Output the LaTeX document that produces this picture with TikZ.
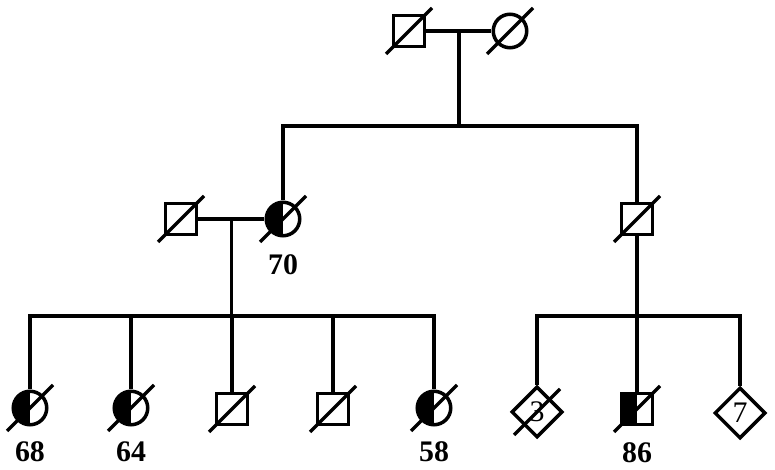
\documentclass[tikz,border=0pt]{standalone}
\usepackage{fontspec}
\setmainfont{Liberation Serif}
\usetikzlibrary{shapes.geometric, positioning, calc}

\begin{document}
\begin{tikzpicture}[x=0.02cm, y=0.02cm, line width=2pt]
        \tikzstyle{male} = [rectangle, draw=black, minimum size=0.62cm, inner sep=0pt]
        \tikzstyle{female} = [circle, draw=black, minimum size=0.67cm, inner sep=0pt]
        \tikzstyle{unknown} = [diamond, draw=black, minimum size=1.02cm, inner sep=0pt, font=\fontsize{17}{17}\selectfont]
        \tikzstyle{affected} = [path picture={\fill[black] (path picture bounding box.south west) rectangle (path picture bounding box.north);}]
        \tikzstyle{age} = [inner sep=0pt, font=\bfseries\fontsize{17}{17}\selectfont]

        \useasboundingbox (0,0) rectangle (775,470);

        % generation I
        \node (gpa) [male] at (409,439) {};
        \node (gma) [female] at (510,439) {};

        % generation II
        \node (dad) [male] at (181,251) {};
        \node (mom) [female, affected] at (283,251) {};
        \node (uncle) [male] at (637,251) {};
        \node (age70) [age, below=0.3cm of mom] {70};

        % generation III
        \node (d68) [female, affected] at (30,62) {};
        \node (d64) [female, affected] at (131,62) {};
        \node (son1) [male] at (232,61) {};
        \node (son2) [male] at (333,61) {};
        \node (d58) [female, affected] at (434,62) {};
        \node (sib3) [unknown] at (537,58) {3};
        \node (son86) [male, affected] at (637,61) {};
        \node (sib7) [unknown] at (740,57) {7};
        \node (age68) [age, below=0.26cm of d68] {68};
        \node (age64) [age, below=0.26cm of d64] {64};
        \node (age58) [age, below=0.26cm of d58] {58};
        \node (age86) [age, below=0.29cm of son86] {86};

        \coordinate (mate1) at ($(gpa.east)!0.5!(gma.west)$);
        \coordinate (mate2) at ($(dad.east)!0.5!(mom.west)$);
        \coordinate (bar1) at (mate1 |- 0,344);
        \coordinate (bar2) at (mate2 |- 0,154);
        \coordinate (bar3) at (uncle |- 0,154);

        \draw (gpa.east) -- (gma.west);
        \draw (mate1) -- (bar1);
        \draw (mom.north) |- (bar1) -| (uncle.north);

        \draw (dad.east) -- (mom.west);
        \draw (mate2) -- (bar2);
        \draw (d68.north) |- (bar2) -| (d58.north);
        \draw (d64.north) -- (d64.north |- bar2);
        \draw (son1.north) -- (son1.north |- bar2);
        \draw (son2.north) -- (son2.north |- bar2);

        \draw (uncle.south) -- (bar3);
        \draw (sib3.north) |- (bar3) -| (sib7.north);
        \draw (son86.north) -- (bar3);

        % deceased
        \foreach \n in {gpa, gma, dad, mom, uncle, d68, d64, son1, son2, d58, sib3, son86}
            \draw ($(\n)+(-23,-23)$) -- ($(\n)+(23,23)$);
    \end{tikzpicture}
\end{document}
